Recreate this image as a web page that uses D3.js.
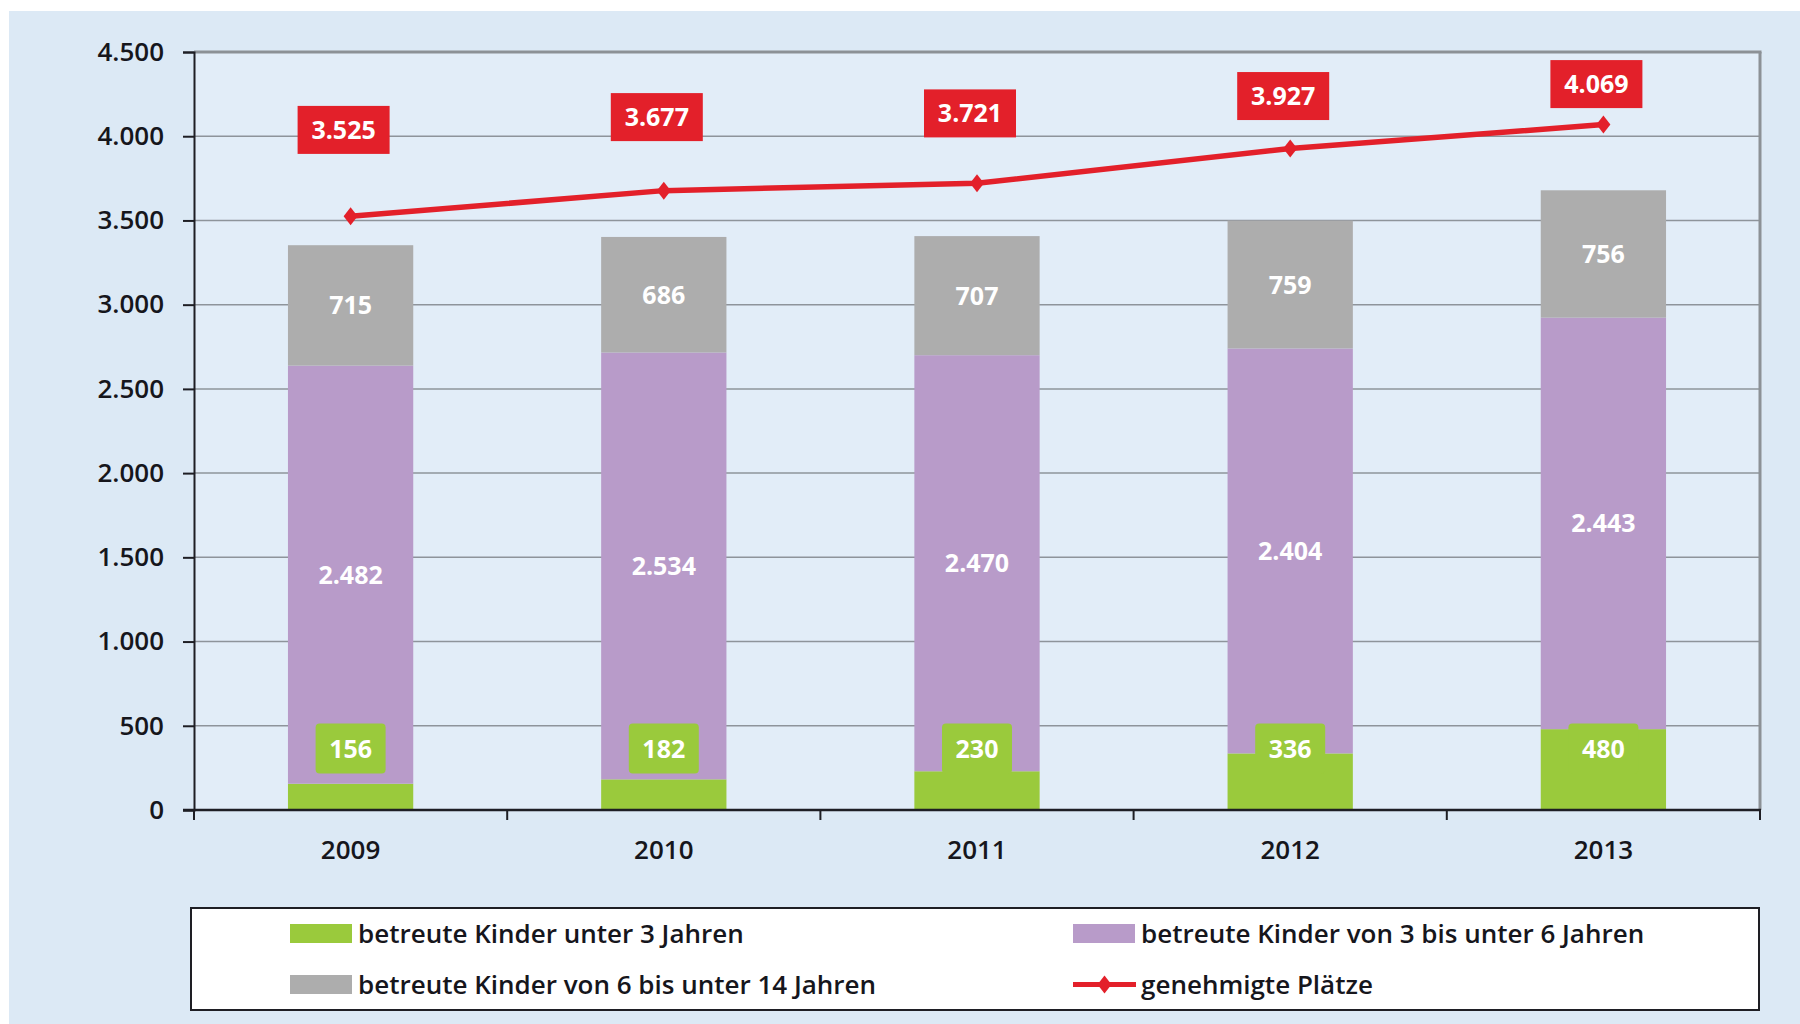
<!DOCTYPE html>
<html>
<head>
<meta charset="utf-8">
<script src="https://cdn.jsdelivr.net/npm/d3@7"></script>
<style>
  html, body { margin: 0; padding: 0; background: #ffffff; }
  svg { display: block; }
</style>
</head>
<body>
<svg id="chart" width="1800" height="1024"></svg>
<script>
// ---- data ----
const years = ["2009", "2010", "2011", "2012", "2013"];
const under3 = [156, 182, 230, 336, 480];
const age3to6 = [2482, 2534, 2470, 2404, 2443];
const age6to14 = [715, 686, 707, 759, 756];
const places = [3525, 3677, 3721, 3927, 4069];
const yTickValues = [0, 500, 1000, 1500, 2000, 2500, 3000, 3500, 4000, 4500];
const seriesNames = [
  "betreute Kinder unter 3 Jahren",
  "betreute Kinder von 3 bis unter 6 Jahren",
  "betreute Kinder von 6 bis unter 14 Jahren",
  "genehmigte Plätze"
];

// ---- setup ----
const svg = d3.select("#chart");
const de = d3.formatLocale({ decimal: ",", thousands: ".", grouping: [3], currency: ["", " €"] });
const fmt = de.format(",");

const colors = { u3: "#9aca3c", a36: "#b89bc9", a614: "#adadad", line: "#e3202a" };
const plot = { left: 194, right: 1760, top: 52, bottom: 810 };
const textFont = "'Open Sans', sans-serif";

// background panel
svg.append("rect").attr("x", 0).attr("y", 0).attr("width", 1800).attr("height", 1024).attr("fill", "#ffffff");
svg.append("rect").attr("x", 9).attr("y", 11).attr("width", 1791).attr("height", 1013).attr("fill", "#dce9f5");
svg.append("rect").attr("x", plot.left).attr("y", plot.top)
  .attr("width", plot.right - plot.left).attr("height", plot.bottom - plot.top).attr("fill", "#e2edf8");

const x = d3.scaleBand().domain(years).range([plot.left, plot.right]).paddingInner(0.6).paddingOuter(0.3);
const y = d3.scaleLinear().domain([0, 4500]).range([plot.bottom, plot.top]);
const step = x.step();
const bw = x.bandwidth();

// gridlines
svg.append("g").selectAll("line").data(yTickValues.filter(v => v > 0 && v < 4500)).join("line")
  .attr("x1", plot.left).attr("x2", plot.right)
  .attr("y1", d => y(d)).attr("y2", d => y(d))
  .attr("stroke", "#8e949b").attr("stroke-width", 1.5);

// top + right border
svg.append("line").attr("x1", plot.left).attr("x2", plot.right + 1.5)
  .attr("y1", y(4500)).attr("y2", y(4500)).attr("stroke", "#8c9196").attr("stroke-width", 3);
svg.append("line").attr("x1", plot.right).attr("x2", plot.right)
  .attr("y1", y(4500)).attr("y2", plot.bottom).attr("stroke", "#8c9196").attr("stroke-width", 3);

// stacked bars
const rows = years.map((yr, i) => ({ year: yr, u3: under3[i], a36: age3to6[i], a614: age6to14[i] }));
const stack = d3.stack().keys(["u3", "a36", "a614"]);
const stacked = stack(rows);

svg.append("g").selectAll("g").data(stacked).join("g")
  .attr("fill", d => colors[d.key])
  .selectAll("rect").data(d => d).join("rect")
  .attr("x", d => x(d.data.year))
  .attr("width", bw)
  .attr("y", d => y(d[1]))
  .attr("height", d => y(d[0]) - y(d[1]));

// axes
const yAxis = d3.axisLeft(y).tickValues(yTickValues).tickFormat(fmt).tickSize(11).tickPadding(19);
const gy = svg.append("g").attr("transform", `translate(${plot.left},0)`).call(yAxis);
gy.select(".domain").attr("stroke", "#1e1e24").attr("stroke-width", 2);
gy.selectAll(".tick line").attr("stroke", "#1e1e24").attr("stroke-width", 2);
gy.selectAll(".tick text").attr("font-family", textFont).attr("font-size", 26).attr("font-weight", 600)
  .attr("fill", "#16161c");

// x axis baseline and category boundary ticks
svg.append("line").attr("x1", plot.left - 11).attr("x2", plot.right + 1)
  .attr("y1", plot.bottom).attr("y2", plot.bottom).attr("stroke", "#1e1e24").attr("stroke-width", 2.5);
const boundaries = years.map(d => x(d) - (step - bw) / 2).concat([x(years[years.length - 1]) + bw + (step - bw) / 2]);
svg.append("g").selectAll("line").data(boundaries).join("line")
  .attr("x1", d => d).attr("x2", d => d)
  .attr("y1", plot.bottom).attr("y2", plot.bottom + 10)
  .attr("stroke", "#1e1e24").attr("stroke-width", 2);
svg.append("g").selectAll("text").data(years).join("text")
  .attr("x", d => x(d) + bw / 2).attr("y", 859)
  .attr("text-anchor", "middle")
  .attr("font-family", textFont).attr("font-size", 26).attr("font-weight", 600).attr("fill", "#16161c")
  .text(d => d);

// value labels: 6-14 (gray) and 3-6 (purple) centred in segment
[stacked[1], stacked[2]].forEach(layer => {
  svg.append("g").selectAll("text").data(layer).join("text")
    .attr("x", d => x(d.data.year) + bw / 2)
    .attr("y", d => (y(d[0]) + y(d[1])) / 2)
    .attr("dy", "0.36em")
    .attr("text-anchor", "middle")
    .attr("font-family", textFont).attr("font-weight", 700).attr("font-size", 25)
    .attr("fill", "#ffffff")
    .text(d => fmt(d[1] - d[0]));
});

// under-3 labels in green boxes just above the base
const g3 = svg.append("g").selectAll("g").data(stacked[0]).join("g")
  .attr("transform", d => `translate(${x(d.data.year) + bw / 2},${y(365)})`);
g3.append("rect").attr("x", -35).attr("y", -25).attr("width", 70).attr("height", 50).attr("rx", 4)
  .attr("fill", colors.u3);
g3.append("text").attr("text-anchor", "middle").attr("dy", "0.36em")
  .attr("font-family", textFont).attr("font-weight", 700).attr("font-size", 25).attr("fill", "#ffffff")
  .text(d => fmt(d[1] - d[0]));

// line: genehmigte Plätze
const linePts = years.map((yr, i) => [x(yr) + bw / 2, y(places[i])]);
svg.append("path").datum(linePts)
  .attr("d", d3.line())
  .attr("fill", "none").attr("stroke", colors.line).attr("stroke-width", 5.5).attr("stroke-linejoin", "round");
const diamond = "M0,-9L7,0L0,9L-7,0Z";
svg.append("g").selectAll("path").data(linePts).join("path")
  .attr("transform", d => `translate(${d[0]},${d[1]})`)
  .attr("d", diamond).attr("fill", colors.line);

// red value boxes
const gp = svg.append("g").selectAll("g").data(places).join("g")
  .attr("transform", (d, i) => `translate(${x(years[i]) + bw / 2 - 7},${(y(d) + y(4550)) / 2})`);
gp.append("rect").attr("x", -46).attr("y", -24).attr("width", 92).attr("height", 48)
  .attr("fill", colors.line);
gp.append("text").attr("text-anchor", "middle").attr("dy", "0.36em")
  .attr("font-family", textFont).attr("font-weight", 700).attr("font-size", 25).attr("fill", "#ffffff")
  .text(d => fmt(d));

// legend
svg.append("rect").attr("x", 191).attr("y", 908).attr("width", 1568).attr("height", 102)
  .attr("fill", "#ffffff").attr("stroke", "#1e1e24").attr("stroke-width", 2);
const legendItems = [
  { name: seriesNames[0], type: "rect", color: colors.u3, x: 290, cy: 933.5 },
  { name: seriesNames[1], type: "rect", color: colors.a36, x: 1073, cy: 933.5 },
  { name: seriesNames[2], type: "rect", color: colors.a614, x: 290, cy: 984.5 },
  { name: seriesNames[3], type: "line", color: colors.line, x: 1073, cy: 984.5 }
];
const lg = svg.append("g").selectAll("g").data(legendItems).join("g")
  .attr("transform", d => `translate(${d.x},${d.cy})`);
lg.filter(d => d.type === "rect").append("rect")
  .attr("x", 0).attr("y", -9.5).attr("width", 62).attr("height", 19).attr("fill", d => d.color);
lg.filter(d => d.type === "line").append("line")
  .attr("x1", 0).attr("x2", 63).attr("y1", 0).attr("y2", 0)
  .attr("stroke", d => d.color).attr("stroke-width", 5);
lg.filter(d => d.type === "line").append("path")
  .attr("transform", "translate(31.5,0)").attr("d", diamond).attr("fill", d => d.color);
lg.append("text").attr("x", 68).attr("y", 0).attr("dy", "0.36em")
  .attr("font-family", textFont).attr("font-size", 26).attr("font-weight", 600).attr("fill", "#16161c")
  .text(d => d.name);
</script>
</body>
</html>
